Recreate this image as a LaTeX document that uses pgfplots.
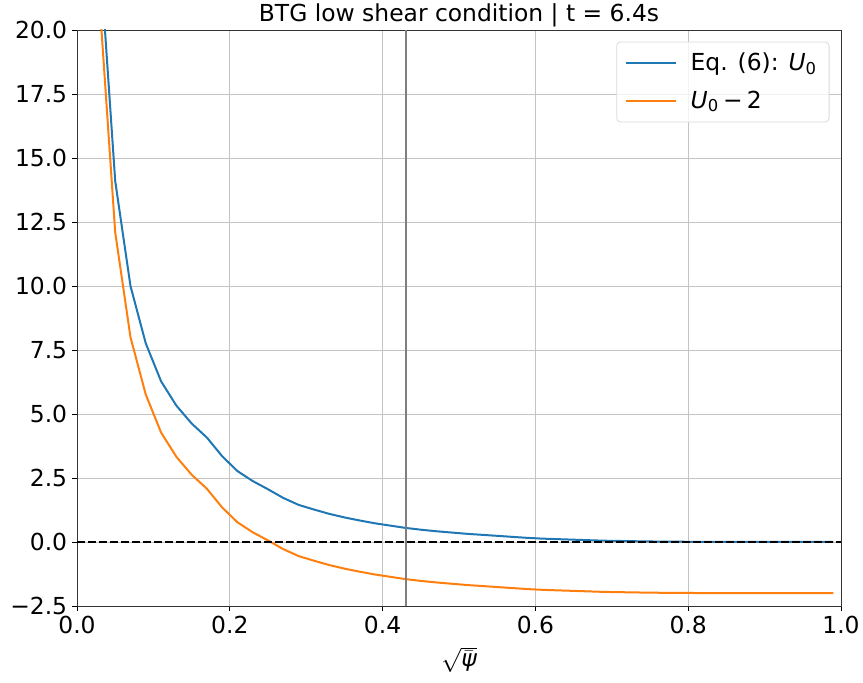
\documentclass[border=0pt]{standalone}
\usepackage{pgfplots}
\pgfplotsset{compat=1.18}
\usepackage{pgfplotstable}
\usepackage{fontspec}
\setmainfont{DejaVu Sans}
\definecolor{mplblue}{HTML}{1F77B4}
\definecolor{mplorange}{HTML}{FF7F0E}
\definecolor{gridgray}{HTML}{C4C4C4}
\definecolor{vgray}{HTML}{7F7F7F}
\newcommand{\myfont}{\fontsize{11.7}{14}\selectfont}

\pgfplotstableread{
x u
0.01 65.0
0.03 22.9
0.05 14.1
0.07 10.0
0.09 7.76
0.11 6.28
0.13 5.33
0.15 4.63
0.17 4.08
0.19 3.35
0.21 2.77
0.23 2.38
0.25 2.06
0.27 1.72
0.29 1.45
0.31 1.27
0.33 1.10
0.35 0.96
0.37 0.84
0.39 0.73
0.41 0.64
0.43 0.55
0.45 0.48
0.47 0.42
0.49 0.37
0.51 0.32
0.53 0.28
0.55 0.24
0.57 0.20
0.59 0.16
0.61 0.13
0.63 0.11
0.65 0.09
0.67 0.07
0.69 0.05
0.71 0.04
0.73 0.03
0.75 0.02
0.77 0.015
0.79 0.01
0.81 0.007
0.83 0.005
0.85 0.003
0.87 0.002
0.89 0.001
0.91 0.0
0.93 0.0
0.95 0.0
0.97 0.0
0.99 0.0
}\blue

\pgfplotstableread{
x u
0.01 63.0
0.03 20.9
0.05 12.1
0.07 8.0
0.09 5.76
0.11 4.28
0.13 3.33
0.15 2.63
0.17 2.08
0.19 1.35
0.21 0.77
0.23 0.38
0.25 0.06
0.27 -0.28
0.29 -0.55
0.31 -0.73
0.33 -0.90
0.35 -1.04
0.37 -1.16
0.39 -1.27
0.41 -1.36
0.43 -1.45
0.45 -1.52
0.47 -1.58
0.49 -1.63
0.51 -1.68
0.53 -1.72
0.55 -1.76
0.57 -1.80
0.59 -1.84
0.61 -1.87
0.63 -1.89
0.65 -1.91
0.67 -1.93
0.69 -1.95
0.71 -1.96
0.73 -1.97
0.75 -1.98
0.77 -1.985
0.79 -1.99
0.81 -1.993
0.83 -1.995
0.85 -1.997
0.87 -1.998
0.89 -1.999
0.91 -2.0
0.93 -2.0
0.95 -2.0
0.97 -2.0
0.99 -2.0
}\orange

\begin{document}
\begin{tikzpicture}
\useasboundingbox (-38.5pt,-38.5pt) rectangle (393pt,303pt);
\begin{axis}[
  name=main,
  scale only axis,
  width=382pt, height=288pt,
  xmin=0, xmax=1, ymin=-2.5, ymax=20,
  xtick={0,0.2,0.4,0.6,0.8,1.0},
  xticklabels={0.0,0.2,0.4,0.6,0.8,1.0},
  ytick={-2.5,0,2.5,5,7.5,10,12.5,15,17.5,20},
  yticklabels={−2.5,0.0,2.5,5.0,7.5,10.0,12.5,15.0,17.5,20.0},
  xtick pos=left, ytick pos=left,
  tick label style={font=\myfont},
  label style={font=\myfont},
  xlabel={$\sqrt{\bar{\mbox{\itshape ψ}}}$},
  tick align=outside,
  major tick length=2.4pt,
  tick style={black, line width=0.45pt},
  axis line style={line width=0.45pt, black!80},
  grid=major,
  major grid style={gridgray, line width=0.45pt},
  xticklabel style={yshift=1pt},
  yticklabel style={xshift=1pt},
  legend style={font=\myfont, at={(0.985,0.98)}, anchor=north east,
    draw=black!15, rounded corners=2pt, fill=white, fill opacity=0.8, text opacity=1,
    inner xsep=4pt, inner ysep=3.5pt, row sep=4.5pt},
  legend cell align=left,
  legend image code/.code={\draw[#1] (0pt,0pt) -- (25pt,0pt); \path (30pt,0pt);},
  clip=true,
]
\addplot[mplblue, line width=1pt] table[x=x, y=u] {\blue};
\addlegendentry{Eq. (6): \textit{U}\textsubscript{0}}
\addplot[mplorange, line width=1pt] table[x=x, y=u] {\orange};
\addlegendentry{\textit{U}\textsubscript{0}\kern2pt−\kern2pt2}
\addplot[black, dashed, dash pattern=on 3.85pt off 1.65pt, line width=0.75pt, forget plot] coordinates {(0,0) (1,0)};
\addplot[vgray, line width=1pt, forget plot] coordinates {(0.43,-2.5) (0.43,20)};
\end{axis}
\node[font=\myfont, anchor=base, inner sep=0pt] at ([yshift=4pt]main.north) {BTG low shear condition | t = 6.4s};
\end{tikzpicture}
\end{document}
